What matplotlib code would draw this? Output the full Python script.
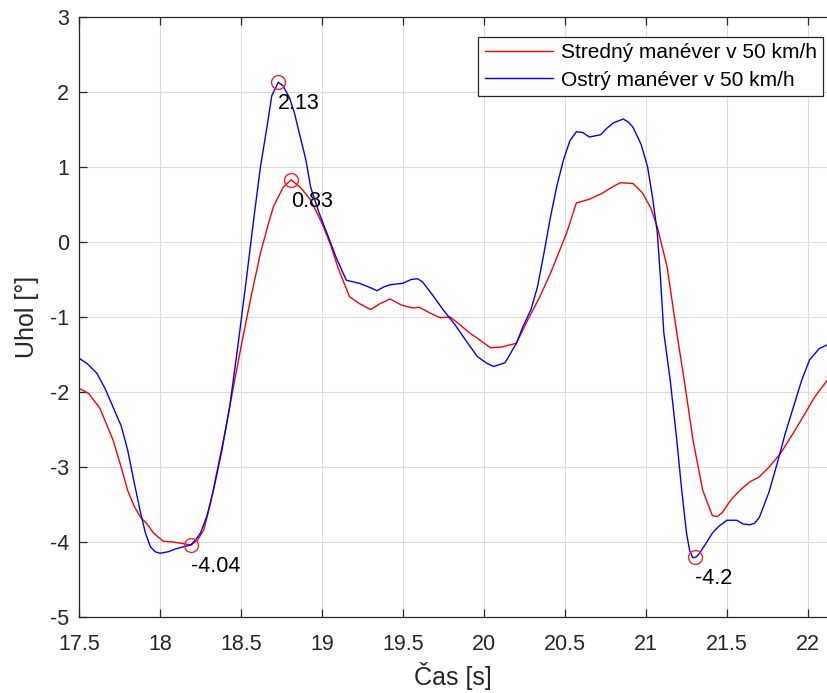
import matplotlib
matplotlib.use('Agg')
import matplotlib.pyplot as plt

plt.rcParams['font.family'] = ['Liberation Sans', 'DejaVu Sans']
plt.rcParams['axes.unicode_minus'] = False

# Stredný manéver v 50 km/h
t_red = [17.50, 17.56, 17.63, 17.71, 17.76, 17.80, 17.84, 17.88, 17.92, 17.96,
         18.02, 18.08, 18.14, 18.19, 18.23, 18.27, 18.31, 18.35, 18.40, 18.45,
         18.50, 18.56, 18.62, 18.67, 18.70, 18.76, 18.81, 18.87, 18.93, 19.00,
         19.05, 19.10, 19.17, 19.23, 19.30, 19.36, 19.42, 19.49, 19.56, 19.60,
         19.67, 19.73, 19.79, 19.85, 19.91, 19.97, 20.04, 20.11, 20.20, 20.27,
         20.34, 20.41, 20.46, 20.51, 20.57, 20.65, 20.73, 20.79, 20.84, 20.92,
         20.98, 21.03, 21.07, 21.13, 21.19, 21.24, 21.29, 21.35, 21.41, 21.44,
         21.47, 21.52, 21.58, 21.64, 21.70, 21.76, 21.83, 21.90, 21.97, 22.04,
         22.12]
v_red = [-1.95, -2.02, -2.22, -2.64, -3.00, -3.31, -3.52, -3.67, -3.76, -3.88,
         -3.99, -4.00, -4.02, -4.04, -3.98, -3.84, -3.50, -3.08, -2.55, -1.97,
         -1.40, -0.75, -0.15, 0.25, 0.47, 0.73, 0.83, 0.72, 0.56, 0.25,
         -0.02, -0.35, -0.73, -0.82, -0.90, -0.82, -0.76, -0.84, -0.88, -0.87,
         -0.95, -1.01, -1.00, -1.10, -1.21, -1.30, -1.41, -1.40, -1.35, -1.04,
         -0.75, -0.42, -0.15, 0.12, 0.52, 0.57, 0.65, 0.73, 0.79, 0.78,
         0.65, 0.45, 0.20, -0.33, -1.21, -1.90, -2.64, -3.31, -3.65, -3.66,
         -3.61, -3.45, -3.31, -3.20, -3.13, -3.00, -2.82, -2.58, -2.33, -2.07,
         -1.84]

# Ostrý manéver v 50 km/h
t_blue = [17.50, 17.55, 17.61, 17.66, 17.71, 17.76, 17.80, 17.84, 17.88, 17.91,
          17.94, 17.97, 18.00, 18.05, 18.10, 18.15, 18.19, 18.22, 18.25, 18.29,
          18.33, 18.38, 18.43, 18.48, 18.53, 18.58, 18.62, 18.66, 18.69, 18.73,
          18.76, 18.80, 18.83, 18.86, 18.90, 18.93, 18.98, 19.03, 19.09, 19.15,
          19.23, 19.30, 19.34, 19.38, 19.42, 19.50, 19.55, 19.59, 19.62, 19.68,
          19.75, 19.82, 19.90, 19.96, 20.02, 20.06, 20.13, 20.20, 20.24, 20.29,
          20.33, 20.37, 20.41, 20.45, 20.49, 20.53, 20.57, 20.61, 20.65, 20.72,
          20.76, 20.80, 20.86, 20.89, 20.92, 20.97, 21.01, 21.04, 21.07, 21.09,
          21.11, 21.15, 21.19, 21.22, 21.25, 21.27, 21.29, 21.31, 21.33, 21.37,
          21.41, 21.45, 21.50, 21.56, 21.60, 21.64, 21.67, 21.70, 21.76, 21.81,
          21.86, 21.91, 21.96, 22.01, 22.07, 22.12]
v_blue = [-1.55, -1.62, -1.75, -1.95, -2.20, -2.45, -2.77, -3.20, -3.61, -3.88,
          -4.06, -4.13, -4.15, -4.13, -4.09, -4.06, -4.04, -3.97, -3.88, -3.65,
          -3.31, -2.80, -2.20, -1.40, -0.55, 0.33, 1.00, 1.53, 1.95, 2.13,
          2.08, 1.92, 1.72, 1.45, 1.10, 0.73, 0.40, 0.12, -0.22, -0.51,
          -0.55, -0.61, -0.65, -0.60, -0.57, -0.55, -0.50, -0.49, -0.53, -0.70,
          -0.91, -1.10, -1.35, -1.53, -1.62, -1.66, -1.61, -1.35, -1.13, -0.90,
          -0.60, -0.15, 0.33, 0.75, 1.09, 1.35, 1.47, 1.46, 1.40, 1.43,
          1.52, 1.59, 1.64, 1.60, 1.53, 1.30, 1.00, 0.60, 0.12, -0.50,
          -1.21, -1.85, -2.64, -3.30, -3.88, -4.12, -4.21, -4.20, -4.15, -4.02,
          -3.88, -3.79, -3.71, -3.71, -3.76, -3.77, -3.75, -3.67, -3.33, -2.95,
          -2.55, -2.20, -1.85, -1.57, -1.42, -1.37]

# marked extremes
ext_t = [18.73, 18.81, 18.19, 21.30]
ext_v = [2.13, 0.83, -4.04, -4.20]
ext_lbl = ['2.13', '0.83', '-4.04', '-4.2']

xticks = [17.5, 18, 18.5, 19, 19.5, 20, 20.5, 21, 21.5, 22]
xtick_lbl = ['17.5', '18', '18.5', '19', '19.5', '20', '20.5', '21', '21.5', '22']
yticks = [-5, -4, -3, -2, -1, 0, 1, 2, 3]

DARK = '#262626'
FS = 15.5

fig = plt.figure(figsize=(8.27, 6.93), dpi=100)
ax = fig.add_axes([79 / 827, 1 - 617 / 693, 748 / 827, 600 / 693])

ax.plot(t_red, v_red, color='#ff0000', lw=1.0, label='Stredný manéver v 50 km/h')
ax.plot(t_blue, v_blue, color='#0000ff', lw=1.0, label='Ostrý manéver v 50 km/h')
ax.plot(ext_t, ext_v, 'o', mfc='none', mec='#ff2020', ms=10, mew=1.0)
for t, v, s in zip(ext_t, ext_v, ext_lbl):
    ax.annotate(s, (t, v), xytext=(0, -8), textcoords='offset points',
                ha='left', va='top', fontsize=FS, color='black')

ax.set_xlim(17.5, 17.5 + 748 / 162)
ax.set_ylim(-5, 3)
ax.set_xticks(xticks)
ax.set_xticklabels(xtick_lbl)
ax.set_yticks(yticks)
ax.grid(True, color='#dcdcdc', lw=0.8)
ax.set_axisbelow(True)

ax.spines['right'].set_visible(False)
for s in ['left', 'bottom', 'top']:
    ax.spines[s].set_color(DARK)
    ax.spines[s].set_linewidth(0.9)
ax.tick_params(direction='in', length=6, width=0.9, color=DARK, labelcolor=DARK,
               labelsize=FS, top=True)
ax.tick_params(axis='x', pad=12)
ax.tick_params(axis='y', pad=7)

ax.set_xlabel('Čas [s]', fontsize=18, color=DARK, labelpad=5)
ax.set_ylabel('Uhol [°]', fontsize=18, color=DARK, labelpad=8)

leg = ax.legend(loc='upper right', bbox_to_anchor=(744 / 748, 580 / 600),
                borderaxespad=0, fontsize=15, fancybox=False, framealpha=1,
                edgecolor=DARK, handlelength=3.3, labelspacing=0.4,
                borderpad=0.3, handletextpad=0.35)
leg.get_frame().set_linewidth(0.9)

fig.savefig('out.png', dpi=100)
